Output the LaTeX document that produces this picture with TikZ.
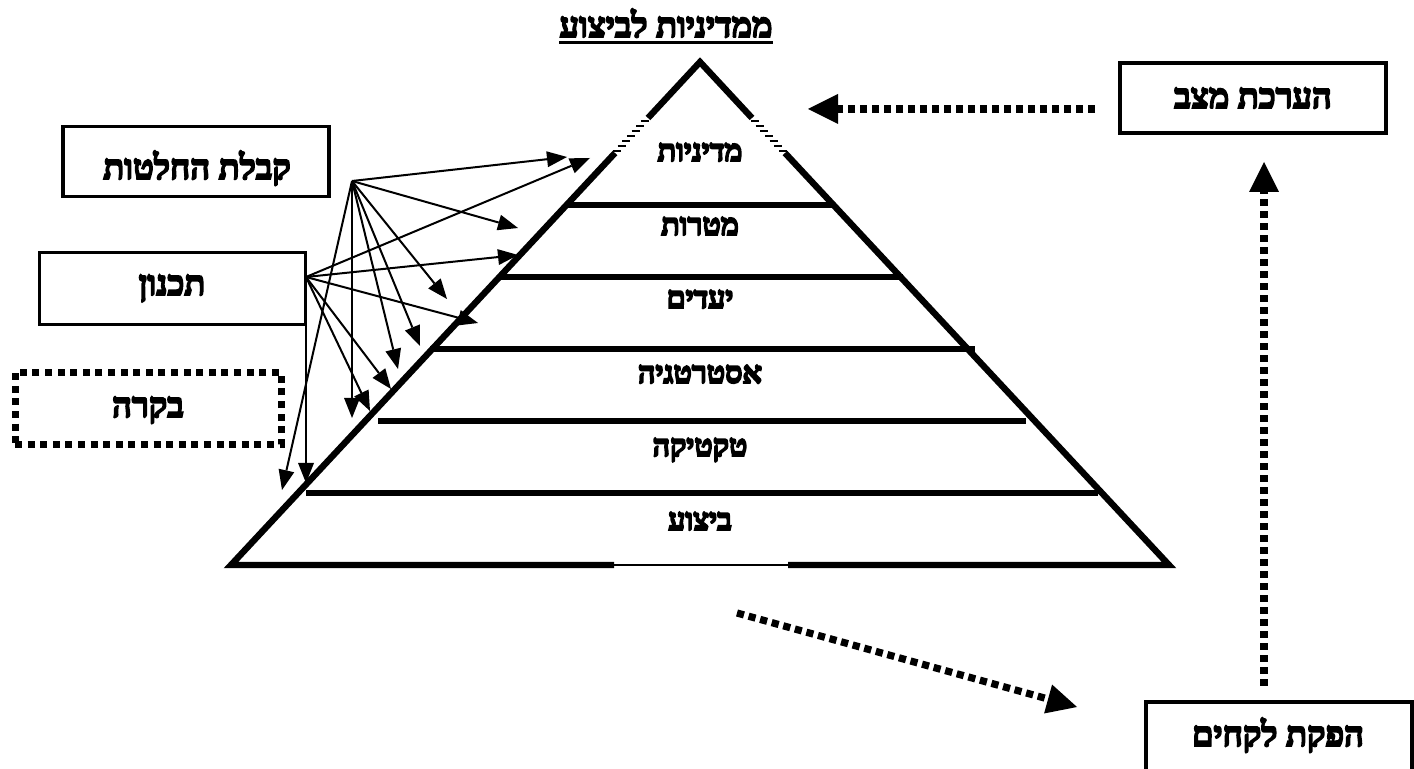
\documentclass[tikz,border=0pt]{standalone}
\usepackage{fontspec}
\usetikzlibrary{arrows.meta}
\TeXXeTstate=1
\newfontfamily\hebfont[Script=Hebrew]{Liberation Serif}
\newcommand\hebtxt[1]{{\hebfont\bfseries\special{pdf:literal direct 2 Tr 0.9 w}\beginR #1\endR\special{pdf:literal direct 0 Tr}}}
\begin{document}
\begin{tikzpicture}[x=0.5pt,y=-0.5pt,
  pyrline/.style={line width=3.2pt, line join=miter, line cap=butt},
  hatch/.style={line width=0.7pt},
  thinarrow/.style={line width=1pt, -{Triangle[length=10pt,width=8pt,line width=0pt]}},
  dotarrow/.style={line width=3.6pt, dash pattern=on 3.6pt off 2.4pt, -{Triangle[length=15pt,width=15pt,line width=0pt]}},
  hbox/.style={draw, line width=1.7pt, minimum width=133pt, minimum height=35pt, inner sep=0pt},
  dotbox/.style={draw, line width=3.5pt, dash pattern=on 3.5pt off 2.8pt, minimum width=133pt, minimum height=36pt, inner sep=0pt},
  lvl/.style={anchor=base, inner sep=0pt, font=\fontsize{15.2}{18}\selectfont},
  lbl/.style={anchor=base, inner sep=0pt, font=\fontsize{17.2}{20}\selectfont}]
\useasboundingbox (0,0) rectangle (1414,769);

% title
\node[lbl] (title) at (666,37) {\hebtxt{ממדיניות לביצוע}};
\draw[line width=1.4pt] ([yshift=-2.8pt]title.base west) -- ([yshift=-2.8pt]title.base east);

% pyramid
\coordinate (apex) at (700,62);
\draw[pyrline] (648,118) -- (apex) -- (752,118);
\draw[pyrline] (615,153) -- (231,565) -- (614,565);
\draw[pyrline] (788,565) -- (1169,565) -- (785,153);
\draw[line width=1pt] (614,565) -- (788,565);
\foreach \y in {121,126,...,151} {
  \draw[hatch] ({700-0.933*(\y-62)-4},\y) -- ++(8,0);
  \draw[hatch] ({700+0.933*(\y-62)-4},\y) -- ++(8,0);
}
\draw[pyrline] (567,205) -- (833,205);
\draw[pyrline] (499,277) -- (903,277);
\draw[pyrline] (430,349) -- (975,349);
\draw[pyrline] (378,421) -- (1026,421);
\draw[pyrline] (306,493) -- (1098,493);

% level labels
\node[lvl] (l1) at (700,161) {\hebtxt{מדיניות}};
\node[lvl] (l2) at (700,235) {\hebtxt{מטרות}};
\node[lvl] (l3) at (700,308) {\hebtxt{יעדים}};
\node[lvl] (l4) at (700,383) {\hebtxt{אסטרטגיה}};
\node[lvl] (l5) at (700,456) {\hebtxt{טקטיקה}};
\node[lvl] (l6) at (700,530) {\hebtxt{ביצוע}};

% boxes
\node[hbox] (kabalat) at (196,161.5) {};
\node[lbl] (kabalatT) at (197,179) {\hebtxt{קבלת החלטות}};
\node[hbox, minimum height=36pt] (tikhnun) at (172.5,288.5) {};
\node[lbl] (tikhnunT) at (172,295) {\hebtxt{תכנון}};
\node[dotbox] (bakara) at (148,408.5) {};
\node[lbl] (bakaraT) at (148,417) {\hebtxt{בקרה}};
\node[hbox] (haarachat) at (1253,98) {};
\node[lbl] (haarachatT) at (1253,108) {\hebtxt{הערכת מצב}};
\node[hbox] (hafakat) at (1279,737) {};
\node[lbl] (hafakatT) at (1278,746) {\hebtxt{הפקת לקחים}};

% hubs and targets
\coordinate (h1) at (352,181);
\coordinate (h2) at (306,277);
\coordinate (a1) at (567,157);
\coordinate (a2) at (518,228);
\coordinate (a3) at (447,299);
\coordinate (a4) at (420,346);
\coordinate (a5) at (398,369);
\coordinate (a6) at (352,418);
\coordinate (a7) at (282,490);
\coordinate (b1) at (590,158);
\coordinate (b2) at (518,255);
\coordinate (b3) at (478,323);
\coordinate (b4) at (391,389);
\coordinate (b5) at (370,411);
\coordinate (b6) at (306,483);
\foreach \t in {a1,a2,a3,a4,a5,a6,a7} \draw[thinarrow] (h1) -- (\t);
\foreach \t in {b1,b2,b3,b4,b5,b6} \draw[thinarrow] (h2) -- (\t);

% dotted arrows
\coordinate (d1s) at (1095,109);
\coordinate (d1e) at (808,109);
\draw[dotarrow] (d1s) -- (d1e);
\coordinate (d2s) at (1264,686);
\coordinate (d2e) at (1264,162);
\draw[dotarrow] (d2s) -- (d2e);
\coordinate (d3s) at (737,613);
\coordinate (d3e) at (1077,707);
\draw[dotarrow] (d3s) -- (d3e);
\end{tikzpicture}
\end{document}
